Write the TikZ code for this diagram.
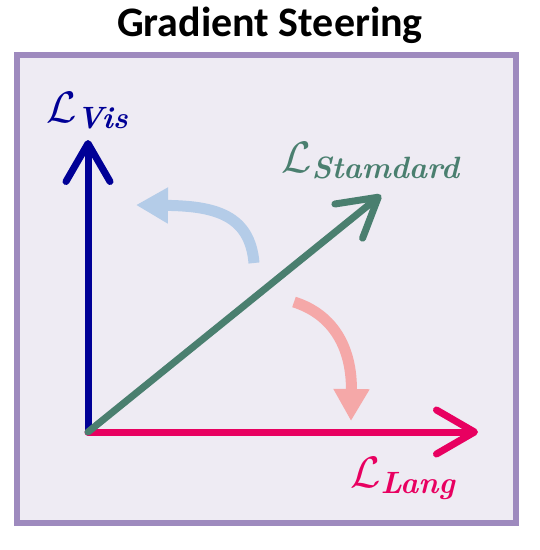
\RequirePackage{fix-cm}
\documentclass[tikz,border=0pt]{standalone}
\usepackage{amsmath}
\usepackage{fontspec}
\usepackage{tikz}
\usetikzlibrary{arrows.meta}
\usetikzlibrary{shadows}
\newfontfamily\titlefont{Carlito}
\definecolor{framefill}{RGB}{238,235,243}
\definecolor{frameline}{RGB}{158,138,190}
\definecolor{viscol}{RGB}{0,0,150}
\definecolor{stdcol}{RGB}{74,127,111}
\definecolor{langcol}{RGB}{232,0,96}
\definecolor{bluelight}{RGB}{180,204,232}
\definecolor{redlight}{RGB}{245,168,168}
\def\LossSub#1{\(\mathcal{L}_{\textbf{\textit{#1}}}\)}

\begin{document}
\begin{tikzpicture}
[x=1pt,y=-1pt,
axis/.style={line width=7pt,line cap=round,
-{Straight Barb[length=38pt,width=44pt,round]}},
steer/.style={line width=11pt,-{Triangle[length=32pt,width=34pt]}},
losslabel/.style={anchor=base west,inner sep=0pt,font=\fontsize{44}{48}\selectfont}
]
\useasboundingbox (0,0) rectangle (540,550);
\node [anchor=base,font=\titlefont\bfseries\fontsize{42}{46}\selectfont] (title) at (270,36) {Gradient Steering};
\draw [frameline,line width=6pt,fill=framefill,
drop shadow={shadow xshift=3pt,shadow yshift=-3pt,opacity=0.35}]
(17,55) rectangle (516,523);
% axes
\coordinate (O) at (88,432);
\coordinate (VisTip) at (88,140);
\coordinate (LangTip) at (478,432);
\coordinate (StdTip) at (381,195);
\draw [axis,viscol] (O) -- (VisTip);
\draw [axis,langcol] (O) -- (LangTip);
\draw [axis,stdcol] (O) -- (StdTip);
% steering arrows
\coordinate (BlueStart) at (254,263);
\coordinate (BlueEnd) at (136,205);
\coordinate (RedStart) at (294,302);
\coordinate (RedEnd) at (351,421);
\draw [steer,bluelight] (BlueStart) .. controls (250,215) and (215,206) .. (BlueEnd);
\draw [steer,redlight] (RedStart) .. controls (335,315) and (352,350) .. (RedEnd);
% labels
\node [losslabel,viscol] (VisLabel) at (46,122) {\LossSub{Vis}};
\node [losslabel,stdcol] (StdLabel) at (281,172) {\LossSub{Stamdard}};
\node [losslabel,langcol] (LangLabel) at (350,487) {\LossSub{Lang}};
\end{tikzpicture}
\end{document}
